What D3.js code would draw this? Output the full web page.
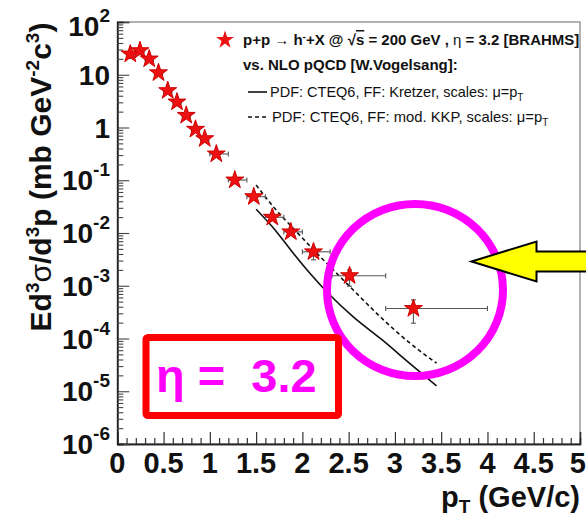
<!DOCTYPE html>
<html><head><meta charset="utf-8">
<script src="https://cdn.jsdelivr.net/npm/d3@7"></script>
<style>
html,body{margin:0;padding:0;background:#fff;}
svg{display:block;font-family:"Liberation Sans",Arial,Helvetica,sans-serif;}
</style></head>
<body>
<svg id="c" width="586" height="516"></svg>
<script>
// ---- data ----
const pT    = [0.14,0.245,0.345,0.445,0.545,0.645,0.745,0.845,0.945,1.07,1.27,1.475,1.675,1.875,2.12,2.51,3.2];
const pTlo  = [0.10,0.20,0.30,0.40,0.50,0.60,0.70,0.80,0.90,1.00,1.20,1.40,1.60,1.80,2.00,2.32,2.90];
const pThi  = [0.18,0.29,0.39,0.49,0.59,0.69,0.79,0.89,0.99,1.20,1.40,1.60,1.80,2.00,2.30,2.90,4.00];
const xsec  = [24.7,28.6,19.9,10.9,5.0,3.04,1.70,0.925,0.614,0.315,0.101,0.0488,0.0199,0.0105,0.0044,0.00155,0.00037];
const xsLo  = [20.5,25.5,18.0,9.9,4.6,2.8,1.57,0.85,0.565,0.29,0.093,0.044,0.0178,0.0092,0.0031,0.00098,0.000195];
const xsHi  = [27.5,31.5,21.8,11.9,5.4,3.28,1.83,1.0,0.665,0.34,0.109,0.053,0.0221,0.0118,0.0054,0.0020,0.00054];

const curvePt   = [1.5,1.7,1.9,2.1,2.3,2.55,2.85,3.15,3.45];
const kretzer   = [0.0282,0.0117,0.00417,0.00158,6.6e-4,2.57e-4,9.8e-5,3.5e-5,1.26e-5];
const modKKP    = [0.0813,0.0295,0.0123,0.00525,0.00229,8.3e-4,2.5e-4,8.5e-5,3.4e-5];

const xTickVals = [0,0.5,1,1.5,2,2.5,3,3.5,4,4.5,5];
const xTickText = ["0","0.5","1","1.5","2","2.5","3","3.5","4","4.5","5"];
const yTickExp  = [2,1,0,-1,-2,-3,-4,-5,-6];

// ---- layout ----
const svg = d3.select("#c");
const L=117.3, R=580, T=22, B=444;
const x = d3.scaleLinear().domain([0,5]).range([L,R]);
const y = d3.scaleLog().domain([1e-6,1e2]).range([B,T]);

// frame (top/right grey)
svg.append("rect").attr("x",L).attr("y",T).attr("width",R-L).attr("height",B-T)
  .attr("fill","none").attr("stroke","#8a8a8a").attr("stroke-width",1.3);

// x axis ticks
const xMinor = d3.range(0,50.5,1).map(d=>d/10).filter(d=>Math.abs(d*2-Math.round(d*2))>1e-6);
const gx = svg.append("g").attr("transform",`translate(0,${B})`);
gx.call(d3.axisBottom(x).tickValues(xTickVals).tickSize(-12).tickFormat(""));
gx.append("g").call(d3.axisBottom(x).tickValues(xMinor).tickSize(-6).tickFormat(""));
gx.selectAll("path.domain").attr("stroke","#222").attr("stroke-width",1.4);
gx.selectAll(".tick line").attr("stroke","#333").attr("stroke-width",1.2);

// y axis ticks
const yMinor = [];
for (let e=-6;e<2;e++) for (let m=2;m<=9;m++) yMinor.push(m*Math.pow(10,e));
const gy = svg.append("g").attr("transform",`translate(${L},0)`);
gy.call(d3.axisLeft(y).tickValues(yTickExp.map(e=>Math.pow(10,e))).tickSize(-12).tickFormat(""));
gy.append("g").call(d3.axisLeft(y).tickValues(yMinor).tickSize(-6).tickFormat(""));
gy.selectAll("path.domain").attr("stroke","#222").attr("stroke-width",1.4);
gy.selectAll(".tick line").attr("stroke","#444").attr("stroke-width",1.1);

// x tick labels
svg.append("g").selectAll("text").data(xTickVals).join("text")
  .attr("x",d=>d===5 ? 586 : x(d)).attr("y",473).attr("text-anchor",d=>d===5?"end":"middle")
  .attr("font-size",29).attr("font-weight","bold").attr("fill","#111")
  .text((d,i)=>xTickText[i]);

// y tick labels
const yl = svg.append("g").selectAll("text").data(yTickExp).join("text")
  .attr("x",110).attr("y",e=>y(Math.pow(10,e))+(e===2?14:10)).attr("text-anchor","end")
  .attr("font-size",28).attr("font-weight","bold").attr("fill","#111");
yl.each(function(e){
  const t=d3.select(this);
  if (e===0) { t.text("1"); return; }
  if (e===1) { t.text("10"); return; }
  t.append("tspan").text("10");
  t.append("tspan").attr("dy",-14).attr("font-size",19).text(String(e));
});

// axis titles
const xt = svg.append("text").attr("x",580).attr("y",507).attr("text-anchor","end")
  .attr("font-size",29).attr("font-weight","bold").attr("fill","#111");
xt.append("tspan").text("p");
xt.append("tspan").attr("dy",6).attr("font-size",19).text("T");
xt.append("tspan").attr("dy",-6).text(" (GeV/c)");

const yt = svg.append("text").attr("transform","translate(51,177) rotate(-90)").attr("text-anchor","middle")
  .attr("font-size",30).attr("font-weight","bold").attr("fill","#111");
yt.append("tspan").text("Ed");
yt.append("tspan").attr("dy",-12).attr("font-size",19).text("3");
yt.append("tspan").attr("dy",12).attr("font-weight","normal").text("σ");
yt.append("tspan").text("/d");
yt.append("tspan").attr("dy",-12).attr("font-size",19).text("3");
yt.append("tspan").attr("dy",12).text("p (mb GeV");
yt.append("tspan").attr("dy",-12).attr("font-size",19).text("-2");
yt.append("tspan").attr("dy",12).text("c");
yt.append("tspan").attr("dy",-12).attr("font-size",19).text("3");
yt.append("tspan").attr("dy",12).text(")");

// theory curves
const line = d3.line().x((d,i)=>x(curvePt[i])).y(d=>y(d)).curve(d3.curveMonotoneX);
svg.append("path").attr("d",line(kretzer)).attr("fill","none").attr("stroke","#111").attr("stroke-width",1.6);
svg.append("path").attr("d",line(modKKP)).attr("fill","none").attr("stroke","#111").attr("stroke-width",1.6)
  .attr("stroke-dasharray","4,3");

// error bars
const eb = svg.append("g").attr("stroke","#555").attr("stroke-width",1.1);
pT.forEach((p,i)=>{
  const cy=y(xsec[i]), cx=x(p);
  eb.append("line").attr("x1",x(pTlo[i])).attr("x2",x(pThi[i])).attr("y1",cy).attr("y2",cy);
  eb.append("line").attr("x1",x(pTlo[i])).attr("x2",x(pTlo[i])).attr("y1",cy-2.5).attr("y2",cy+2.5);
  eb.append("line").attr("x1",x(pThi[i])).attr("x2",x(pThi[i])).attr("y1",cy-2.5).attr("y2",cy+2.5);
  eb.append("line").attr("x1",cx).attr("x2",cx).attr("y1",y(xsLo[i])).attr("y2",y(xsHi[i]));
  eb.append("line").attr("x1",cx-2.5).attr("x2",cx+2.5).attr("y1",y(xsLo[i])).attr("y2",y(xsLo[i]));
  eb.append("line").attr("x1",cx-2.5).attr("x2",cx+2.5).attr("y1",y(xsHi[i])).attr("y2",y(xsHi[i]));
});

// markers
const star = d3.symbol().type(d3.symbolStar).size(100);
svg.append("g").selectAll("path").data(pT).join("path")
  .attr("d",star).attr("transform",(d,i)=>`translate(${x(d)},${y(xsec[i])})`)
  .attr("fill","#ee1111").attr("stroke","#cc0000").attr("stroke-width",1);

// legend
const lg = svg.append("g").attr("fill","#111");
lg.append("path").attr("d",star).attr("transform","translate(225,40)").attr("fill","#ee1111");
const l1 = lg.append("text").attr("x",243).attr("y",45).attr("font-size",15).attr("font-weight","bold");
l1.append("tspan").text("p+p → h");
l1.append("tspan").attr("dy",-5).attr("font-size",10).text("-");
l1.append("tspan").attr("dy",5).text("+X @ √");
l1.append("tspan").attr("text-decoration","overline").text("s");
l1.append("tspan").text(" = 200 GeV , ");
l1.append("tspan").attr("font-weight","normal").text("η");
l1.append("tspan").text(" = 3.2 [BRAHMS]");
lg.append("text").attr("x",243).attr("y",70).attr("font-size",15).attr("font-weight","bold")
  .text("vs. NLO pQCD [W.Vogelsang]:");
lg.append("line").attr("x1",248).attr("x2",267).attr("y1",92).attr("y2",92).attr("stroke","#111").attr("stroke-width",1.6);
const l3 = lg.append("text").attr("x",270).attr("y",97).attr("font-size",14.5);
l3.append("tspan").text("PDF: CTEQ6, FF: Kretzer, scales: μ=p");
l3.append("tspan").attr("dy",4).attr("font-size",10).text("T");
lg.append("line").attr("x1",248).attr("x2",268).attr("y1",117).attr("y2",117).attr("stroke","#111")
  .attr("stroke-width",1.6).attr("stroke-dasharray","4,3");
const l4 = lg.append("text").attr("x",272).attr("y",122).attr("font-size",14.8);
l4.append("tspan").text("PDF: CTEQ6, FF: mod. KKP, scales: μ=p");
l4.append("tspan").attr("dy",4).attr("font-size",10).text("T");

// annotations
svg.append("ellipse").attr("cx",415).attr("cy",290).attr("rx",88).attr("ry",86)
  .attr("fill","none").attr("stroke","#ff00ff").attr("stroke-width",8);
svg.append("rect").attr("x",146).attr("y",337.5).attr("width",192.5).attr("height",78).attr("rx",2)
  .attr("fill","none").attr("stroke","#ff0000").attr("stroke-width",7);
svg.append("text").attr("x",156).attr("y",392).attr("font-size",47).attr("font-weight","bold")
  .attr("fill","#ff00ff").attr("xml:space","preserve").text("η =  3.2");
svg.append("polygon")
  .attr("points","471.5,261.5 536.5,241.5 536.5,251.5 592,251.5 592,271.5 536.5,271.5 536.5,281.5")
  .attr("fill","#ffff00").attr("stroke","#000").attr("stroke-width",2).attr("stroke-linejoin","miter");
</script>
</body></html>
